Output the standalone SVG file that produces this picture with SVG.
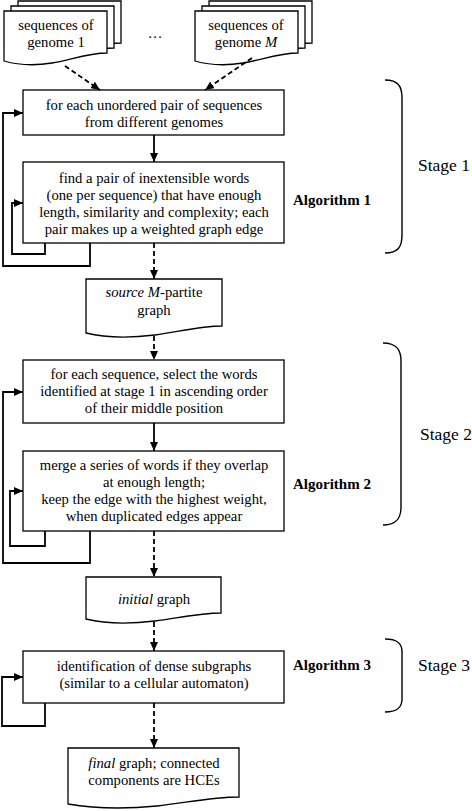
<svg xmlns="http://www.w3.org/2000/svg" width="472" height="811" viewBox="0 0 472 811">
<defs>
<marker id="ah" markerUnits="userSpaceOnUse" markerWidth="10" markerHeight="8" refX="9" refY="4" orient="auto">
<path d="M0,0 L9,4 L0,8 Z" fill="#000"/>
</marker>
<style>
.box{fill:#fff;stroke:#000;stroke-width:1.3}
.t{font-family:"Liberation Serif","Times New Roman",serif;font-size:14.7px;text-anchor:middle;fill:#000}
.alg{font-family:"Liberation Serif","Times New Roman",serif;font-size:15px;font-weight:bold;fill:#000}
.stage{font-family:"Liberation Serif","Times New Roman",serif;font-size:17.5px;fill:#000}
.c{fill:none;stroke:#000;stroke-width:1.8}
.d{fill:none;stroke:#000;stroke-width:1.8;stroke-dasharray:5,3}
.brace{fill:none;stroke:#000;stroke-width:1.4}
</style>
</defs>

<g id="docs1">
<path class="box" d="M18,1 H121 V43 C102,43 84,50 66,53 C48,56 32,55 18,51 Z"/>
<path class="box" d="M11,6 H114 V48 C95,48 77,55 59,58 C41,61 25,60 11,56 Z"/>
<path class="box" d="M4,11 H107 V53 C88,53 70,60 52,63 C34,66 18,65 4,61 Z"/>
<text class="t" x="56" y="30">sequences of</text>
<text class="t" x="56" y="47">genome 1</text>
</g>

<g id="ellipsis">
<text class="t" x="155" y="38">…</text>
</g>

<g id="docsM">
<path class="box" d="M209,1 H312 V43 C293,43 275,50 257,53 C239,56 223,55 209,51 Z"/>
<path class="box" d="M202,6 H305 V48 C286,48 268,55 250,58 C232,61 216,60 202,56 Z"/>
<path class="box" d="M195,11 H298 V53 C279,53 261,60 243,63 C225,66 209,65 195,61 Z"/>
<text class="t" x="246" y="30">sequences of</text>
<text class="t" x="246" y="47">genome <tspan font-style="italic">M</tspan></text>
</g>

<g id="box1">
<rect class="box" x="23" y="90" width="261" height="45"/>
<text class="t" x="154" y="110">for each unordered pair of sequences</text>
<text class="t" x="154" y="127">from different genomes</text>
</g>

<g id="box2">
<rect class="box" x="23" y="162" width="261" height="81"/>
<text class="t" x="154" y="183">find a pair of inextensible words</text>
<text class="t" x="154" y="200">(one per sequence) that have enough</text>
<text class="t" x="154" y="217">length, similarity and complexity; each</text>
<text class="t" x="154" y="234">pair makes up a weighted graph edge</text>
</g>

<g id="alg1"><text class="alg" x="293" y="205">Algorithm 1</text></g>
<g id="stage1">
<path class="brace" d="M385,80 C398,80 402,86 402,98 L402,235 C402,247 398,253 385,253"/>
<text class="stage" x="418" y="171">Stage 1</text>
</g>

<g id="source">
<path class="box" d="M86,279 H222 V326 C200,326 178,332 155,335 C130,338 106,338 86,333 Z"/>
<text class="t" x="154" y="297"><tspan font-style="italic">source M</tspan>-partite</text>
<text class="t" x="154" y="315">graph</text>
</g>

<g id="box3">
<rect class="box" x="23" y="360" width="261" height="63"/>
<text class="t" x="154" y="379">for each sequence, select the words</text>
<text class="t" x="154" y="396">identified at stage 1 in ascending order</text>
<text class="t" x="154" y="413">of their middle position</text>
</g>

<g id="box4">
<rect class="box" x="23" y="451" width="261" height="80"/>
<text class="t" x="154" y="470">merge a series of words if they overlap</text>
<text class="t" x="154" y="487">at enough length;</text>
<text class="t" x="154" y="504">keep the edge with the highest weight,</text>
<text class="t" x="154" y="521">when duplicated edges appear</text>
</g>

<g id="alg2"><text class="alg" x="293" y="489">Algorithm 2</text></g>
<g id="stage2">
<path class="brace" d="M383,343 C396,343 401,349 401,361 L401,507 C401,519 396,525 383,525"/>
<text class="stage" x="420" y="440">Stage 2</text>
</g>

<g id="initial">
<path class="box" d="M86,577 H221 V613 C200,613 178,618 155,621 C130,624 106,624 86,619 Z"/>
<text class="t" x="154" y="604"><tspan font-style="italic">initial</tspan> graph</text>
</g>

<g id="box5">
<rect class="box" x="23" y="651" width="261" height="52"/>
<text class="t" x="154" y="671">identification of dense subgraphs</text>
<text class="t" x="154" y="688">(similar to a cellular automaton)</text>
</g>

<g id="alg3"><text class="alg" x="293" y="670">Algorithm 3</text></g>
<g id="stage3">
<path class="brace" d="M385,639 C398,639 402,644 402,652 L402,699 C402,707 398,712 385,712"/>
<text class="stage" x="418" y="671">Stage 3</text>
</g>

<g id="final">
<path class="box" d="M68,748 H239 V797 C212,797 185,803 157,806 C126,809 97,809 68,804 Z"/>
<text class="t" x="154" y="768"><tspan font-style="italic">final</tspan> graph; connected</text>
<text class="t" x="154" y="785">components are HCEs</text>
</g>

<g id="connectors">
<path class="d" d="M65,66 L100,90" marker-end="url(#ah)"/>
<path class="d" d="M252,58 L205,90" marker-end="url(#ah)"/>
<path class="c" d="M154,135 V162" marker-end="url(#ah)"/>
<path class="d" d="M154,243 V279" marker-end="url(#ah)"/>
<path class="c" d="M90,243 V266 H3 V113 H23" marker-end="url(#ah)"/>
<path class="c" d="M45,243 V254 H12 V203 H23" marker-end="url(#ah)"/>
<path class="d" d="M154,336 V360" marker-end="url(#ah)"/>
<path class="c" d="M154,423 V451" marker-end="url(#ah)"/>
<path class="c" d="M90,531 V563 H3 V392 H23" marker-end="url(#ah)"/>
<path class="c" d="M45,531 V546 H10 V491 H23" marker-end="url(#ah)"/>
<path class="d" d="M154,531 V577" marker-end="url(#ah)"/>
<path class="d" d="M154,622 V651" marker-end="url(#ah)"/>
<path class="c" d="M45,703 V726 H2 V677 H23" marker-end="url(#ah)"/>
<path class="d" d="M154,703 V748" marker-end="url(#ah)"/>
</g>
</svg>
